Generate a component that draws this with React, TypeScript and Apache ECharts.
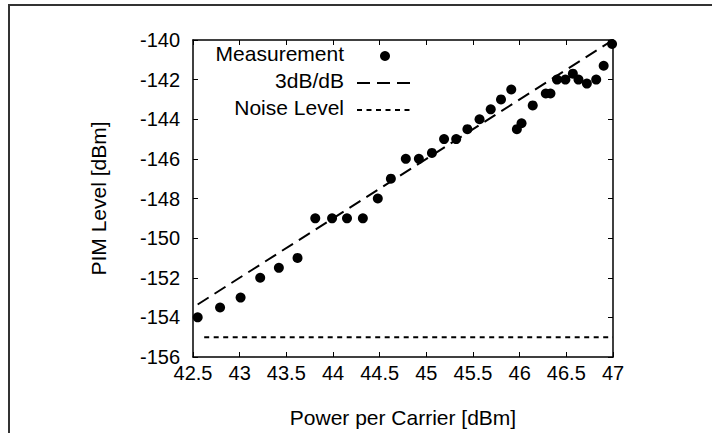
import React, { useEffect, useRef } from "react";
import * as echarts from "echarts";

// Measured PIM points
const powerPerCarrier = [
  42.55, 42.79, 43.01, 43.22, 43.42, 43.62, 43.81, 43.99, 44.15, 44.32, 44.48,
  44.62, 44.78, 44.92, 45.06, 45.19, 45.32, 45.44, 45.57, 45.69, 45.8, 45.91,
  45.97, 46.02, 46.14, 46.28, 46.33, 46.4, 46.49, 46.57, 46.63, 46.72, 46.82,
  46.9, 46.99,
];
const pimLevel = [
  -154.0, -153.5, -153.0, -152.0, -151.5, -151.0, -149.0, -149.0, -149.0,
  -149.0, -148.0, -147.0, -146.0, -146.0, -145.7, -145.0, -145.0, -144.5,
  -144.0, -143.5, -143.0, -142.5, -144.5, -144.2, -143.3, -142.7, -142.7,
  -142.0, -142.0, -141.7, -142.0, -142.2, -142.0, -141.3, -140.2,
];

// 3dB/dB reference line
const trendX = [42.55, 47];
const trendY = [-153.35, -140.0];

// Noise level
const noiseX = [42.62, 47];
const noiseY = [-155, -155];

// Axes
const xMin = 42.5;
const xMax = 47;
const xStep = 0.5;
const yMin = -156;
const yMax = -140;
const yStep = 2;

const legendNames = ["Measurement", "3dB/dB", "Noise Level"];

const FONT = "'Liberation Sans', Arial, Helvetica, sans-serif";

export default function App() {
  const ref = useRef<HTMLDivElement>(null);

  useEffect(() => {
    document.body.style.margin = "0";
    if (!ref.current) return;
    const chart = echarts.init(ref.current, undefined, { renderer: "svg" });

    const pts = powerPerCarrier.map((x, i) => [x, pimLevel[i]]);
    const trend = trendX.map((x, i) => [x, trendY[i]]);
    const noise = noiseX.map((x, i) => [x, noiseY[i]]);

    const axisLine = { show: true, lineStyle: { color: "#000", width: 1.5 } };
    const tick = { show: true, inside: true, length: 5, lineStyle: { color: "#000", width: 1 } };

    const legendTextX = 344;
    const sampleX1 = 357;
    const sampleX2 = 413;
    const rowY = [56, 83, 110];

    chart.setOption({
      animation: false,
      backgroundColor: "#fff",
      textStyle: { fontFamily: FONT },
      grid: { left: 193, right: 99, top: 40, bottom: 73, containLabel: false },
      xAxis: [
        {
          type: "value",
          min: xMin,
          max: xMax,
          interval: xStep,
          position: "bottom",
          name: "Power per Carrier [dBm]",
          nameLocation: "middle",
          nameGap: 50,
          nameTextStyle: { color: "#000", fontSize: 21, fontFamily: FONT },
          axisLine,
          axisTick: tick,
          axisLabel: { color: "#000", fontSize: 20, fontFamily: FONT, margin: 6 },
          splitLine: { show: false },
        },
        {
          type: "value",
          min: xMin,
          max: xMax,
          interval: xStep,
          position: "top",
          axisLine,
          axisTick: tick,
          axisLabel: { show: false },
          splitLine: { show: false },
        },
      ],
      yAxis: [
        {
          type: "value",
          min: yMin,
          max: yMax,
          interval: yStep,
          position: "left",
          name: "PIM Level [dBm]",
          nameLocation: "middle",
          nameGap: 84,
          nameTextStyle: { color: "#000", fontSize: 21, fontFamily: FONT },
          axisLine,
          axisTick: tick,
          axisLabel: {
            color: "#000",
            fontSize: 20,
            fontFamily: FONT,
            margin: 13,
            padding: [0, 0, 6, 0],
          },
          splitLine: { show: false },
        },
        {
          type: "value",
          min: yMin,
          max: yMax,
          interval: yStep,
          position: "right",
          axisLine,
          axisTick: tick,
          axisLabel: { show: false },
          splitLine: { show: false },
        },
      ],
      series: [
        {
          name: legendNames[1],
          type: "line",
          data: trend,
          showSymbol: false,
          symbol: "none",
          lineStyle: { color: "#000", width: 2, type: [13, 7] },
          z: 2,
        },
        {
          name: legendNames[2],
          type: "line",
          data: noise,
          showSymbol: false,
          symbol: "none",
          lineStyle: { color: "#000", width: 2, type: [5, 4.5] },
          z: 2,
        },
        {
          name: legendNames[0],
          type: "scatter",
          data: pts,
          symbol: "circle",
          symbolSize: 10,
          itemStyle: { color: "#000", opacity: 1 },
          z: 3,
        },
      ],
      graphic: [
        {
          type: "rect",
          shape: { x: 9, y: 5, width: 800, height: 600 },
          style: { fill: "none", stroke: "#333", lineWidth: 2 },
          silent: true,
          z: 0,
        },
        ...legendNames.map((n, i) => ({
          type: "text",
          x: legendTextX,
          y: rowY[i] - 3,
          style: {
            text: n,
            fill: "#000",
            font: `21px ${FONT}`,
            textAlign: "right",
            textVerticalAlign: "middle",
          },
          z: 10,
        })),
        {
          type: "circle",
          shape: { cx: (sampleX1 + sampleX2) / 2, cy: rowY[0], r: 5 },
          style: { fill: "#000" },
          z: 10,
        },
        {
          type: "line",
          shape: { x1: sampleX1, y1: rowY[1], x2: sampleX2, y2: rowY[1] },
          style: { stroke: "#000", lineWidth: 2, lineDash: [13, 7] },
          z: 10,
        },
        {
          type: "line",
          shape: { x1: sampleX1, y1: rowY[2], x2: sampleX2, y2: rowY[2] },
          style: { stroke: "#000", lineWidth: 2, lineDash: [5, 4.5] },
          z: 10,
        },
      ],
    });

    return () => chart.dispose();
  }, []);

  return <div ref={ref} style={{ width: 712, height: 433 }} />;
}
